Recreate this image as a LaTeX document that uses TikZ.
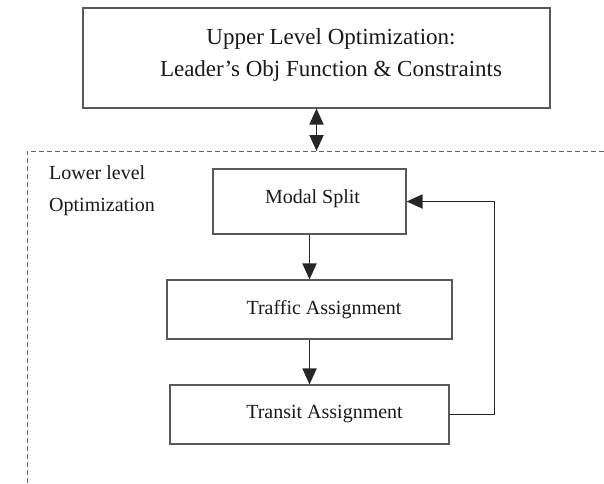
\documentclass[tikz,border=0pt]{standalone}
\usepackage{fontspec}
\setmainfont{Liberation Serif}
\usetikzlibrary{arrows.meta}
\begin{document}
\begin{tikzpicture}[x=1pt,y=-1pt,
  box/.style={draw=black!65, line width=1.1pt, rectangle, inner sep=0pt},
  lbl/.style={font=\fontsize{20}{32}\selectfont, inner sep=0pt, text=black!90},
  biglbl/.style={font=\fontsize{23}{32}\selectfont, inner sep=0pt, text=black!90},
  arr/.style={line width=1.8pt, draw=black!85, -{Triangle[length=16pt,width=14pt]}},
  dbl/.style={line width=1.8pt, draw=black!85, {Triangle[length=16pt,width=14pt]}-{Triangle[length=16pt,width=14pt]}},
  dashline/.style={draw=black!60, line width=0.9pt, dash pattern=on 5pt off 3pt}]
\useasboundingbox (0,0) rectangle (604,483);
% upper box
\node[box, minimum width=467pt, minimum height=100pt] (up) at (316.5,58) {};
\node[biglbl, align=center] (upt) at (331,55) {Upper Level Optimization:\\Leader's Obj Function \& Constraints};
% dashed region
\coordinate (dl) at (27,483);
\coordinate (dc) at (27,151);
\coordinate (dr) at (604,151);
\coordinate (dtop) at (316.5,151);
\draw[dashline] (dl) -- (dc) -- (dr);
\draw[dbl] (up.south) -- (dtop);
\node[lbl, align=left, anchor=west] (low) at (49,191) {Lower level\\Optimization};
% lower boxes
\node[box, minimum width=193pt, minimum height=65pt] (ms) at (309.5,201.5) {};
\node[lbl] (mst) at (312.5,199) {Modal Split};
\node[box, minimum width=285pt, minimum height=59pt] (tr) at (309.5,309.5) {};
\node[lbl] (trt) at (324,310) {Traffic Assignment};
\node[box, minimum width=279pt, minimum height=59pt] (ta) at (309.5,414.5) {};
\node[lbl] (tat) at (324.5,414) {Transit Assignment};
% connectors
\draw[arr] (ms.south) -- (tr.north);
\draw[arr] (tr.south) -- (ta.north);
\draw[arr] (ta.east) -- ++(45,0) |- (ms.east);
\end{tikzpicture}
\end{document}
